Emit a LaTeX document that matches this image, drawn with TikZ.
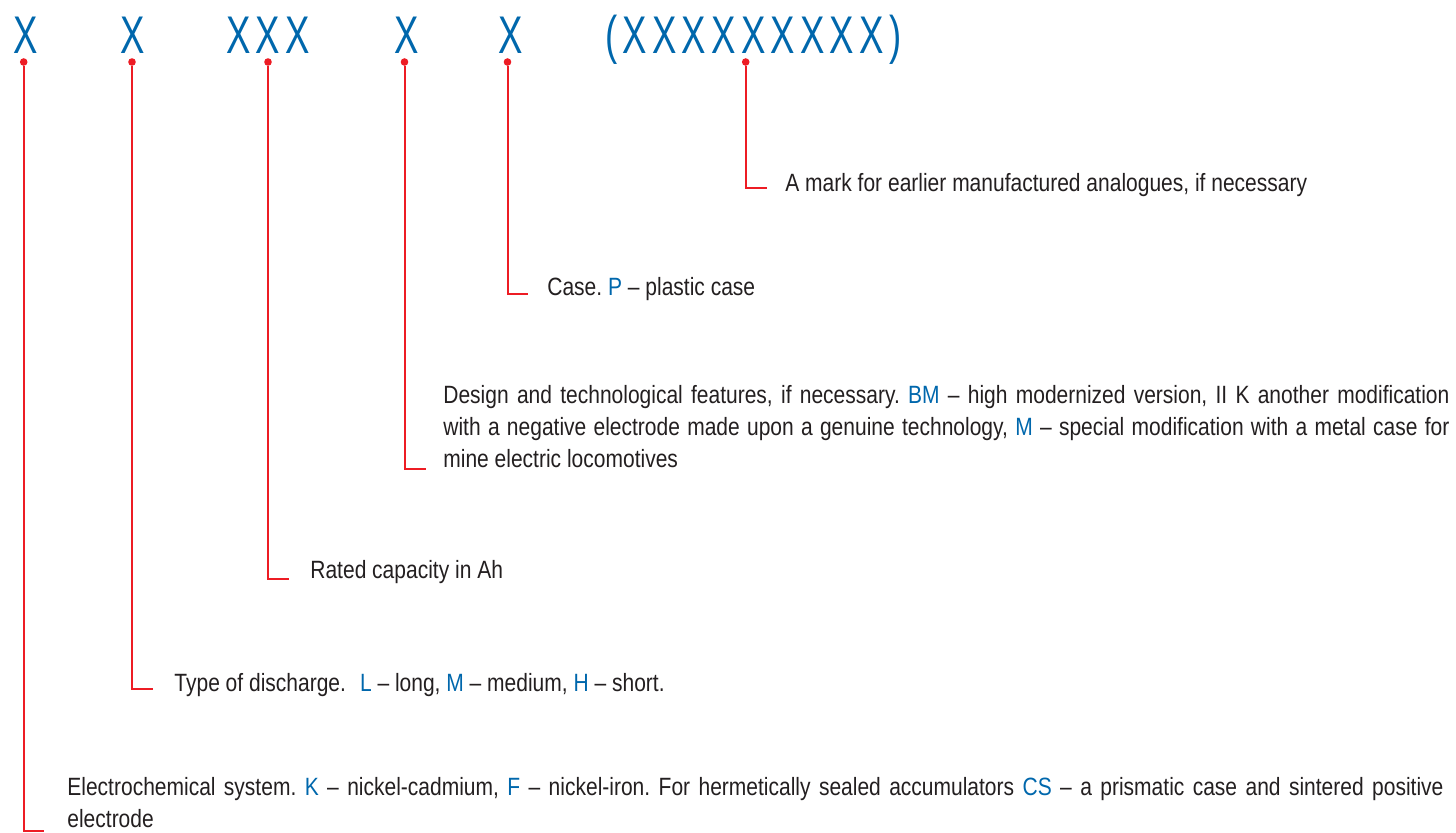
\documentclass[tikz,border=0pt]{standalone}
\usepackage{fontspec}
\setmainfont{Liberation Sans}[FakeStretch=0.84]
\newfontfamily\codefont{Liberation Sans}[FakeStretch=0.69]
\usetikzlibrary{positioning,calc}
\definecolor{codeblue}{RGB}{0,103,172}
\definecolor{markred}{RGB}{237,28,36}
\definecolor{inkgray}{RGB}{35,31,32}
\newcommand{\cb}[1]{\textcolor{codeblue}{#1}}
\newcommand{\xk}{\kern2.6pt}
\frenchspacing

\begin{document}
\begin{tikzpicture}[
    x=0.5pt, y=-0.5pt,
    codetxt/.style={anchor=base west, inner sep=0, text=codeblue, font=\codefont\fontsize{26.5}{30}\selectfont},
    notetxt/.style={anchor=north west, inner sep=0, align=left, text=inkgray, font=\fontsize{12.5}{16}\selectfont, execute at begin node=\strut},
    blocktxt/.style={notetxt, align=justify},
    reddot/.style={circle, fill=markred, inner sep=0, minimum size=3.8pt},
    wire/.style={draw=markred, line width=1pt}
]
\useasboundingbox (0,0) rectangle (1456,832);

% code positions
\node[codetxt] (c1) at (13,53) {X};
\node[codetxt] (c2) at (120,53) {X};
\node[codetxt] (c3) at (226,53) {X\xk X\xk X};
\node[codetxt] (c4) at (394,53) {X};
\node[codetxt] (c5) at (498,53) {X};
\node[codetxt] (c6) at (605,53) {(\xk X\xk X\xk X\xk X\xk X\xk X\xk X\xk X\xk X\xk)};

% dots under the codes
\node[reddot] (d1) at (23.7,62) {};
\node[reddot] (d2) at (132,62) {};
\node[reddot] (d3) at (268,62) {};
\node[reddot] (d4) at (404.5,62) {};
\node[reddot] (d5) at (507.5,62) {};
\node[reddot] (d6) at (745.7,62) {};

% ends of the leaders
\coordinate (e1) at (44,830.5);
\coordinate (e2) at (153,688.7);
\coordinate (e3) at (289,579);
\coordinate (e4) at (426,469.3);
\coordinate (e5) at (528,294);
\coordinate (e6) at (767,187.7);

% explanations
\node[blocktxt, text width=688pt] (t1) at (67,772.6) {Electrochemical system. \cb{K} -- nickel-cadmium, \cb{F} -- nickel-iron. For hermetically sealed accumulators \cb{CS} -- a prismatic case and sintered positive\linebreak electrode};
\node[notetxt] (t2) at (174,669.1) {Type of discharge.\hspace{7pt}\cb{L} -- long, \cb{M} -- medium, \cb{H} -- short.};
\node[notetxt] (t3) at (310,556.1) {Rated capacity in Ah};
\node[blocktxt, text width=503pt] (t4) at (443,380.6) {Design and technological features, if necessary. \cb{BM} -- high modernized version, II K another modification\linebreak with a negative electrode made upon a genuine technology, \cb{M} -- special modification with a metal case for\linebreak mine electric locomotives};
\node[notetxt] (t5) at (547,272.6) {Case. \cb{P} -- plastic case};
\node[notetxt] (t6) at (785,169.1) {A mark for earlier manufactured analogues, if necessary};

% leaders
\foreach \i in {1,...,6}
    \draw[wire] (d\i) |- (e\i);
\end{tikzpicture}
\end{document}
